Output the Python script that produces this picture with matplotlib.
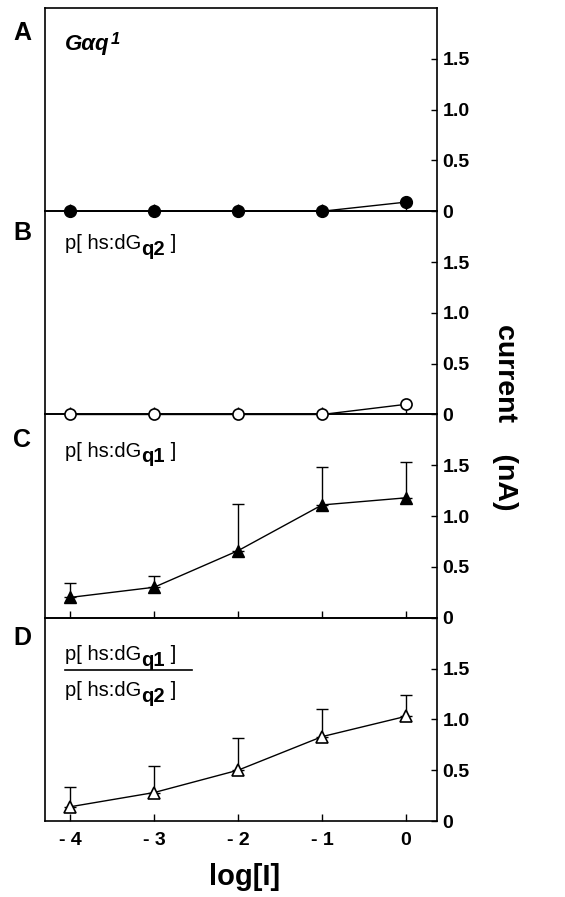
import numpy as np
import matplotlib.pyplot as plt

plt.rcParams['font.family'] = ['Liberation Sans', 'DejaVu Sans']

# data
log_I = [-4, -3, -2, -1, 0]
galphaq1 = [0.0, 0.0, 0.0, 0.0, 0.09]
hs_dgq2 = [0.0, 0.0, 0.0, 0.0, 0.10]
hs_dgq1 = [0.20, 0.30, 0.66, 1.11, 1.18]
hs_dgq1_top = [0.34, 0.41, 1.12, 1.48, 1.53]
ratio = [0.14, 0.28, 0.50, 0.83, 1.03]
ratio_top = [0.33, 0.54, 0.82, 1.10, 1.24]

panel_labels = ['A', 'B', 'C', 'D']
yticks = [0, 0.5, 1.0, 1.5]
ytick_labels = ['0', '0.5', '1.0', '1.5']
xtick_labels = ['- 4', '- 3', '- 2', '- 1', '0']

dpi = 100
fig = plt.figure(figsize=(5.65, 8.97), dpi=dpi)
left, right = 45 / 565, 437 / 565
top, bottom = 1 - 8 / 897, 1 - 821 / 897
h = (top - bottom) / 4
axes = [fig.add_axes([left, top - (i + 1) * h, right - left, h]) for i in range(4)]


def chained_label(ax, x, y, parts, size=14.5):
    # parts: list of (text, weight, dy) drawn one after another
    t = ax.text(x, y, parts[0][0], transform=ax.transAxes, fontsize=size,
                fontweight=parts[0][1], va='center', ha='left')
    prev = t
    prev_dy = 0
    for txt, w, dy in parts[1:]:
        prev = ax.annotate(txt, xy=(1, 0.5 + dy - prev_dy), xycoords=prev, fontsize=size,
                           fontweight=w, va='center', ha='left')
        prev_dy = dy
    return t


for i, ax in enumerate(axes):
    # upper panels on top so markers sitting on the shared border stay whole
    ax.set_zorder(4 - i)
    ax.patch.set_visible(False)
    ax.set_xlim(-4.3, 0.37)
    ax.set_ylim(0, 2.0)
    ax.yaxis.tick_right()
    ax.set_yticks(yticks)
    ax.set_yticklabels(ytick_labels, fontsize=14, fontweight='bold')
    ax.tick_params(axis='y', direction='in', length=4, width=1, pad=4)
    ax.set_xticks(log_I)
    ax.tick_params(axis='x', direction='in', length=5, width=1)
    if i < 3:
        ax.tick_params(axis='x', labelbottom=False)
    for s in ax.spines.values():
        s.set_linewidth(1.2)
    fig.text(22 / 565, [1 - 33 / 897, 1 - 233 / 897, 1 - 440 / 897, 1 - 638 / 897][i],
             panel_labels[i], fontsize=18, fontweight='bold', ha='center', va='center')

axes[3].set_xticklabels(xtick_labels, fontsize=14, fontweight='bold')
axes[3].tick_params(axis='x', pad=8)

# A
axes[0].plot(log_I, galphaq1, '-', color='k', lw=1, marker='o', markersize=8.5,
             markerfacecolor='k', markeredgecolor='k', clip_on=False, zorder=5)
ta = axes[0].text(0.051, 0.82, 'Gαq', transform=axes[0].transAxes, fontsize=16,
                  fontweight='bold', style='italic', va='center', ha='left')
axes[0].annotate('1', xy=(1.02, 0.75), xycoords=ta, fontsize=12, fontweight='bold',
                 style='italic', va='center', ha='left')

# B
axes[1].plot(log_I, hs_dgq2, '-', color='k', lw=1, marker='o', markersize=8,
             markerfacecolor='white', markeredgecolor='k', markeredgewidth=1.2,
             clip_on=False, zorder=5)
chained_label(axes[1], 0.051, 0.84, [('p[ hs:dG', 'normal', 0), ('q2', 'bold', -0.3),
                                     (' ]', 'normal', 0)])

# C
y = np.array(hs_dgq1)
axes[2].errorbar(log_I, y, yerr=[np.zeros(5), np.array(hs_dgq1_top) - y], fmt='none',
                 ecolor='k', elinewidth=1, capsize=4, capthick=1, zorder=3)
axes[2].plot(log_I, y, '-', color='k', lw=1, marker='^', markersize=9,
             markerfacecolor='k', markeredgecolor='k', zorder=5)
chained_label(axes[2], 0.051, 0.82, [('p[ hs:dG', 'normal', 0), ('q1', 'bold', -0.3),
                                     (' ]', 'normal', 0)])

# D
y = np.array(ratio)
axes[3].errorbar(log_I, y, yerr=[np.zeros(5), np.array(ratio_top) - y], fmt='none',
                 ecolor='k', elinewidth=1, capsize=4, capthick=1, zorder=3)
axes[3].plot(log_I, y, '-', color='k', lw=1, marker='^', markersize=9,
             markerfacecolor='white', markeredgecolor='k', markeredgewidth=1.2, zorder=5)
chained_label(axes[3], 0.051, 0.82, [('p[ hs:dG', 'normal', 0), ('q1', 'bold', -0.3),
                                     (' ]', 'normal', 0)])
chained_label(axes[3], 0.051, 0.64, [('p[ hs:dG', 'normal', 0), ('q2', 'bold', -0.3),
                                     (' ]', 'normal', 0)])
axes[3].plot([0.051, 0.375], [0.741, 0.741], color='k', lw=1.2, transform=axes[3].transAxes)

fig.text(505 / 565, 1 - 417 / 897, 'current    (nA)', rotation=270, fontsize=20.5,
         fontweight='bold', ha='center', va='center')
fig.text(245 / 565, 1 - 877 / 897, 'log[I]', fontsize=21, fontweight='bold',
         ha='center', va='center')

plt.savefig('out.png', dpi=dpi)
